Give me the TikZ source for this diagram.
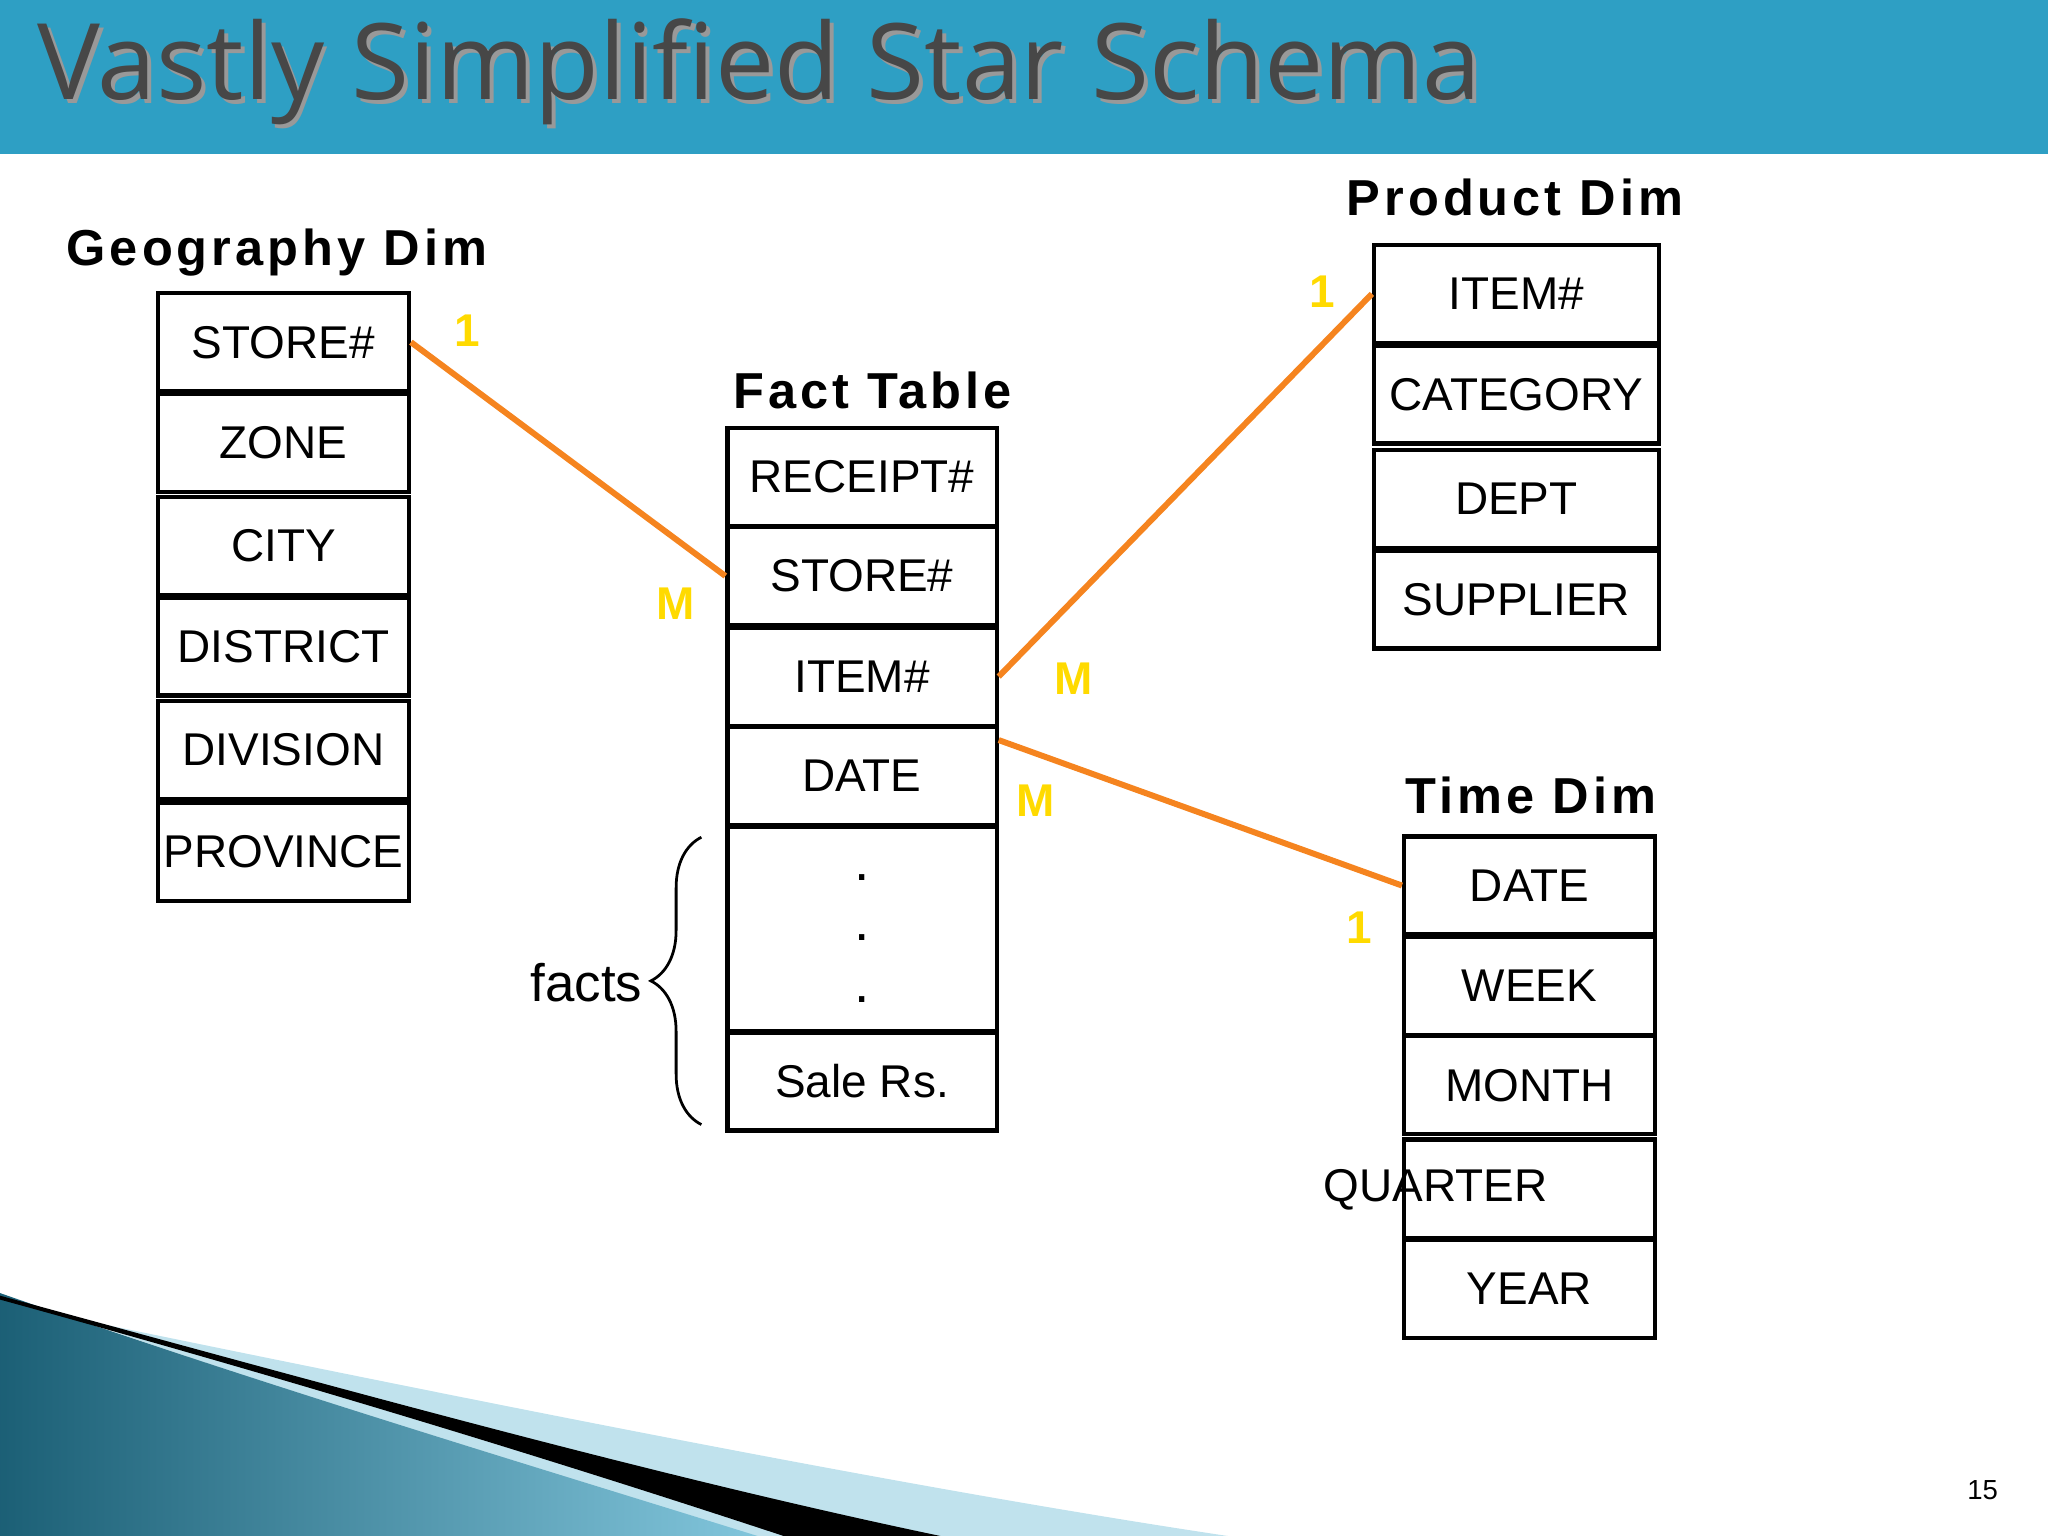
\documentclass[tikz,border=0pt]{standalone}
\usepackage{fontspec}
\setmainfont{Liberation Sans}
\newfontfamily\titlefont{Open Sans}
\newfontfamily\hdrfont[LetterSpace=8]{Liberation Sans}
\usetikzlibrary{decorations.pathreplacing,calc}
\definecolor{bar}{HTML}{2E9FC4}
\definecolor{ora}{HTML}{F5841F}
\definecolor{yel}{HTML}{FFDA00}
\begin{document}
\begin{tikzpicture}[x=0.01cm,y=-0.01cm,
  cell/.style={draw,line width=0.9pt,minimum height=0.75cm,inner sep=0pt,font=\fontsize{10}{10}\selectfont},
  geo/.style={cell,minimum width=1.92cm},
  fact/.style={cell,minimum width=2.06cm},
  prod/.style={cell,minimum width=2.18cm},
  tim/.style={cell,minimum width=1.92cm},
  hdr/.style={font=\hdrfont\bfseries\fontsize{11}{11}\selectfont},
  card/.style={text=yel,font=\bfseries\fontsize{10}{10}\selectfont},
  rel/.style={ora,line width=1.3pt}]
\useasboundingbox (0,0) rectangle (1568,1176);
% title bar
\fill[bar] (0,0) rectangle (1568,118);
\node[text=black!40,font=\titlefont\fontsize{23}{23}\selectfont,anchor=west] at (19,58) {Vastly Simplified Star Schema};
\node[text=black!72,font=\titlefont\fontsize{23}{23}\selectfont,anchor=west] at (16,55) {Vastly Simplified Star Schema};
% bottom decoration
\fill[bar!30!white] (60,1010) .. controls (400,1080) and (700,1140) .. (940,1176) -- (560,1176) .. controls (400,1120) and (200,1060) .. (60,1010) -- cycle;
\shade[left color=bar!60!black,right color=bar!60!white] (0,990) .. controls (200,1060) and (400,1120) .. (580,1176) -- (0,1176) -- cycle;
\fill[black] (0,992) .. controls (250,1060) and (500,1130) .. (720,1176) -- (600,1176) .. controls (400,1110) and (200,1050) .. (0,995) -- cycle;
% headers
\node[hdr] (hgeo) at (212,193) {Geography Dim};
\node[hdr] (hfact) at (668,299) {Fact Table};
\node[hdr] (hprod) at (1160,151) {Product Dim};
\node[hdr] (htime) at (1172,609) {Time Dim};
% geography
\node[geo] (g1) at (217,262) {STORE\#};
\node[geo] (g2) at (217,339) {ZONE};
\node[geo] (g3) at (217,418) {CITY};
\node[geo] (g4) at (217,495) {DISTRICT};
\node[geo] (g5) at (217,574) {DIVISION};
\node[geo] (g6) at (217,652) {PROVINCE};
% fact
\node[fact] (f1) at (660,365) {RECEIPT\#};
\node[fact] (f2) at (660,441) {STORE\#};
\node[fact] (f3) at (660,518) {ITEM\#};
\node[fact] (f4) at (660,594) {DATE};
\node[fact,minimum height=1.56cm] (f5) at (660,711) {};
\node[fact] (f6) at (660,828) {Sale Rs.};
\node[font=\fontsize{12}{12}\selectfont] (d1) at (660,672) {.};
\node[font=\fontsize{12}{12}\selectfont] (d2) at (660,718) {.};
\node[font=\fontsize{12}{12}\selectfont] (d3) at (660,765) {.};
% product
\node[prod] (p1) at (1161,225) {ITEM\#};
\node[prod] (p2) at (1161,302) {CATEGORY};
\node[prod] (p3) at (1161,382) {DEPT};
\node[prod] (p4) at (1161,459) {SUPPLIER};
% time
\node[tim] (t1) at (1171,678) {DATE};
\node[tim] (t2) at (1171,755) {WEEK};
\node[tim] (t3) at (1171,831) {MONTH};
\node[tim] (t4) at (1171,910) {};
\node[font=\fontsize{10}{10}\selectfont] (t4l) at (1099,911) {QUARTER};
\node[tim] (t5) at (1171,987) {YEAR};
% relations
\draw[rel] (g1.east) -- (f2.west);
\draw[rel] (f3.east) -- (p1.west);
\draw[rel] ($(f4.north east)!0.15!(f4.south east)$) -- (t1.west);
\node[card] (c1) at (358,253) {1};
\node[card] (c2) at (517,462) {M};
\node[card] (c3) at (1012,223) {1};
\node[card] (c4) at (822,520) {M};
\node[card] (c5) at (793,613) {M};
\node[card] (c6) at (1041,710) {1};
% brace
\coordinate (bt) at (537,641);
\coordinate (bb) at (537,861);
\draw[line width=0.6pt,decorate,decoration={brace,amplitude=11pt}] (bb) -- (bt);
\node[font=\fontsize{11.5}{11.5}\selectfont] (facts) at (449,752) {facts};
\node[font=\fontsize{6}{6}\selectfont] (pg) at (1518,1141) {15};
\end{tikzpicture}
\end{document}
